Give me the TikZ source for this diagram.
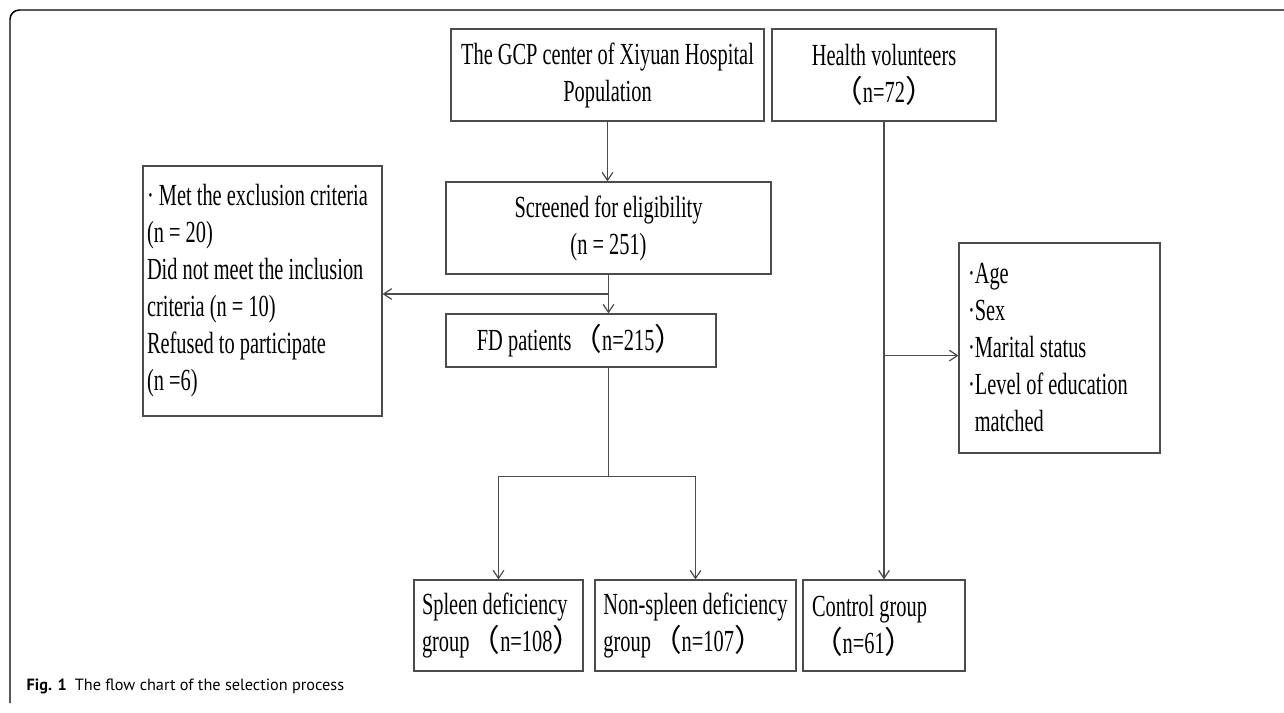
\documentclass[tikz,border=0pt]{standalone}
\usepackage{fontspec}
\setmainfont{Liberation Serif}[FakeStretch=0.665]
\newfontfamily\cjkfont{Noto Sans CJK SC}
\newfontfamily\capfont{PT Sans}
\usetikzlibrary{arrows.meta,calc}
\newcommand{\fwl}{{\cjkfont （}}
\newcommand{\fwr}{{\cjkfont ）}}
\newcommand{\boxfont}{\fontsize{23}{27.75}\selectfont\hyphenpenalty=10000}

\begin{document}
\begin{tikzpicture}[x=0.75pt,y=-0.75pt,
  box/.style={draw=black!70,line width=0.9pt,rectangle,inner sep=0pt,font=\boxfont,
    execute at begin node={\spaceskip=\fontdimen2\font plus\fontdimen3\font minus\fontdimen4\font\relax}},
  arr/.style={draw=black!70,line width=0.9pt,-{Straight Barb[length=6pt,width=8pt]}},
  link/.style={draw=black!70,line width=0.9pt}]
  \fill[white] (0,0) rectangle (1284,713);
  \useasboundingbox (0,0) rectangle (1284,713);
  \draw[line width=1.1pt,rounded corners=7pt] (10,703) -- (10,10) -- (1284,10);

  % upper row
  \node[box,minimum width=234.75pt,minimum height=69pt,align=center] (gcp) at (607.5,75)
    {The GCP center of Xiyuan Hospital\\Population};
  \node[box,minimum width=168pt,minimum height=69pt,align=center] (health) at (884,75)
    {Health volunteers\\\fwl n=72\fwr};
  \node[box,minimum width=243.75pt,minimum height=69pt,align=center] (screen) at (608.5,228)
    {Screened for eligibility\\(n = 251)};
  \node[box,minimum width=179.25pt,minimum height=187.5pt,text width=173.25pt,align=left] (excl) at (262.5,291)
    {· Met the exclusion criteria\\(n = 20)\\Did not meet the inclusion\\criteria (n = 10)\\Refused to participate\\(n =6)};
  \node[box,minimum width=202.5pt,minimum height=39.75pt,align=center] (fd) at (581,340.5)
    {FD patients\fwl n=215\fwr};
  \node[box,minimum width=150.75pt,minimum height=157.5pt,text width=137.25pt,align=left] (age) at (1059.5,348)
    {·Age\\·Sex\\·Marital status\\·Level of education\\\hphantom{·}matched};

  % groups
  \node[box,minimum width=126.75pt,minimum height=68.25pt,text width=114.75pt,align=left] (spleen) at (498.5,625.5)
    {Spleen deficiency\\group\fwl n=108\fwr};
  \node[box,minimum width=150.75pt,minimum height=68.25pt,align=left] (nonsp) at (695.5,625.5)
    {Non-spleen deficiency\\group\fwl n=107\fwr};
  \node[box,minimum width=121.5pt,minimum height=68.25pt,text width=108pt,align=left] (ctrl) at (884,625.5)
    {Control group\\\fwl n=61\fwr};

  \draw[arr] (gcp.south) -- (gcp.south |- screen.north);
  \coordinate (s1) at ($(screen.south)!0.5!(screen.south |- fd.north)$);
  \draw[arr] (screen.south) -- (screen.south |- fd.north);
  \draw[arr] (s1) -- (s1 -| excl.east);
  \coordinate (s2) at ($(screen.south)+(0,202)$);
  \draw[link] (screen.south |- fd.south) -- (s2);
  \draw[arr] (s2) -| (spleen.north);
  \draw[arr] (s2) -| (nonsp.north);
  \coordinate (s3) at ($(health.south)+(0,234)$);
  \draw[arr] (health.south) -- (ctrl.north);
  \draw[arr] (s3) -- (s3 -| age.west);

  \node[anchor=base west,font=\capfont\fontsize{12.2}{14}\selectfont] (cap) at (22,690)
    {\textbf{Fig. 1}\hspace{0.5em}The flow chart of the selection process};
\end{tikzpicture}
\end{document}
